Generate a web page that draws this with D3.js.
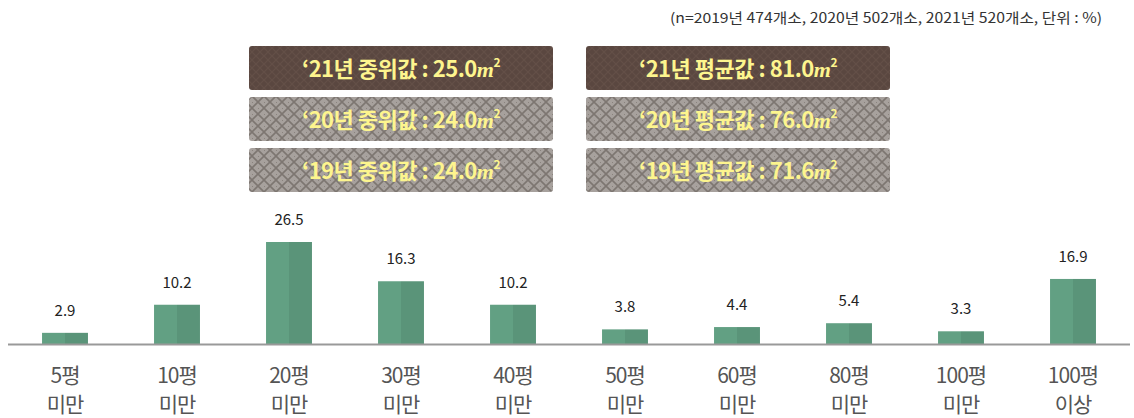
<!DOCTYPE html>
<html>
<head>
<meta charset="utf-8">
<script src="https://cdn.jsdelivr.net/npm/d3@7"></script>
<style>
  body { margin: 0; background: #fff; }
  text { font-family: "Noto Sans CJK KR", "Noto Sans", sans-serif; }
</style>
</head>
<body>
<div id="chart"></div>
<script>
// data
var categories = ["5평|미만", "10평|미만", "20평|미만", "30평|미만", "40평|미만",
                  "50평|미만", "60평|미만", "80평|미만", "100평|미만", "100평|이상"];
var values = [2.9, 10.2, 26.5, 16.3, 10.2, 3.8, 4.4, 5.4, 3.3, 16.9];
var medianLabels = ["‘21년 중위값 : 25.0", "‘20년 중위값 : 24.0", "‘19년 중위값 : 24.0"];
var meanLabels = ["‘21년 평균값 : 81.0", "‘20년 평균값 : 76.0", "‘19년 평균값 : 71.6"];
var note = "(n=2019년  474개소, 2020년 502개소, 2021년  520개소, 단위 : %)";

var width = 1134, height = 418;
var baseY = 344;

var svg = d3.select("#chart").append("svg")
    .attr("width", width)
    .attr("height", height);

// patterns for the boxes
var defs = svg.append("defs");
var hatch = defs.append("pattern")
    .attr("id", "hatch")
    .attr("patternUnits", "userSpaceOnUse")
    .attr("width", 12).attr("height", 12);
hatch.append("rect").attr("width", 12).attr("height", 12).attr("fill", "#a7a19d");
hatch.append("path").attr("d", "M0,0L12,12M12,0L0,12")
    .attr("stroke", "#7d7671").attr("stroke-width", 1.6);
hatch.append("path").attr("d", "M-1,5L1,7M11,-1L13,1M5,-1L7,1")
    .attr("stroke", "#8a837e").attr("stroke-width", 1);

var dark = defs.append("pattern")
    .attr("id", "dark")
    .attr("patternUnits", "userSpaceOnUse")
    .attr("width", 8).attr("height", 8);
dark.append("rect").attr("width", 8).attr("height", 8).attr("fill", "#5a4740");
dark.append("path").attr("d", "M0,0L8,8M8,0L0,8")
    .attr("stroke", "#634f47").attr("stroke-width", 1.2);

// scales
var x = d3.scaleBand()
    .domain(categories)
    .range([9, 1129])
    .paddingInner(0.59)
    .paddingOuter(0.295);

var y = d3.scaleLinear()
    .domain([0, 26.5])
    .range([baseY, 242]);

// bars (two tones)
var bars = svg.append("g").selectAll("g")
    .data(values)
    .enter().append("g");

bars.append("rect")
    .attr("x", function(d, i) { return x(categories[i]); })
    .attr("y", function(d) { return y(d); })
    .attr("width", x.bandwidth() / 2)
    .attr("height", function(d) { return baseY - y(d); })
    .attr("fill", "#62a083");

bars.append("rect")
    .attr("x", function(d, i) { return x(categories[i]) + x.bandwidth() / 2; })
    .attr("y", function(d) { return y(d); })
    .attr("width", x.bandwidth() / 2)
    .attr("height", function(d) { return baseY - y(d); })
    .attr("fill", "#5a9479");

// value labels
bars.append("text")
    .attr("x", function(d, i) { return x(categories[i]) + x.bandwidth() / 2; })
    .attr("y", function(d) { return y(d) - 17; })
    .attr("text-anchor", "middle")
    .attr("font-size", 15)
    .attr("fill", "#222")
    .text(function(d) { return d.toFixed(1); });

// baseline
svg.append("line")
    .attr("x1", 8).attr("x2", 1130)
    .attr("y1", baseY + 0.5).attr("y2", baseY + 0.5)
    .attr("stroke", "#999").attr("stroke-width", 2);

// category labels, one text per line
[0, 1].forEach(function(line) {
    svg.append("g").selectAll("text")
        .data(categories)
        .enter().append("text")
        .attr("x", function(d) { return x(d) + x.bandwidth() / 2; })
        .attr("y", line === 0 ? 383 : 412)
        .attr("text-anchor", "middle")
        .attr("font-size", 21)
        .attr("fill", "#555")
        .attr("letter-spacing", "-1px")
        .text(function(d) { return d.split("|")[line]; });
});

// note
svg.append("text")
    .attr("x", 1102).attr("y", 23)
    .attr("text-anchor", "end")
    .attr("font-size", 14)
    .attr("fill", "#333")
    .attr("textLength", 432)
    .attr("lengthAdjust", "spacingAndGlyphs")
    .text(note);

// summary boxes
var boxRows = [46, 97, 148];
function drawBoxes(labels, bx) {
    labels.forEach(function(lbl, i) {
        svg.append("rect")
            .attr("x", bx).attr("y", boxRows[i])
            .attr("width", 304).attr("height", 44)
            .attr("rx", 3)
            .attr("fill", i === 0 ? "url(#dark)" : "url(#hatch)");
        var t = svg.append("text")
            .attr("x", bx + 152).attr("y", boxRows[i] + 31)
            .attr("text-anchor", "middle")
            .attr("font-size", 22)
            .attr("font-weight", "bold")
            .attr("fill", "#fdf58e")
            .attr("letter-spacing", "-0.5px");
        t.append("tspan").text(lbl);
        t.append("tspan").attr("font-style", "italic").attr("font-family", "Liberation Serif, serif").text("m");
        t.append("tspan").attr("font-size", 12).attr("dy", -10).text("2");
    });
}
drawBoxes(medianLabels, 249);
drawBoxes(meanLabels, 586);
</script>
</body>
</html>
